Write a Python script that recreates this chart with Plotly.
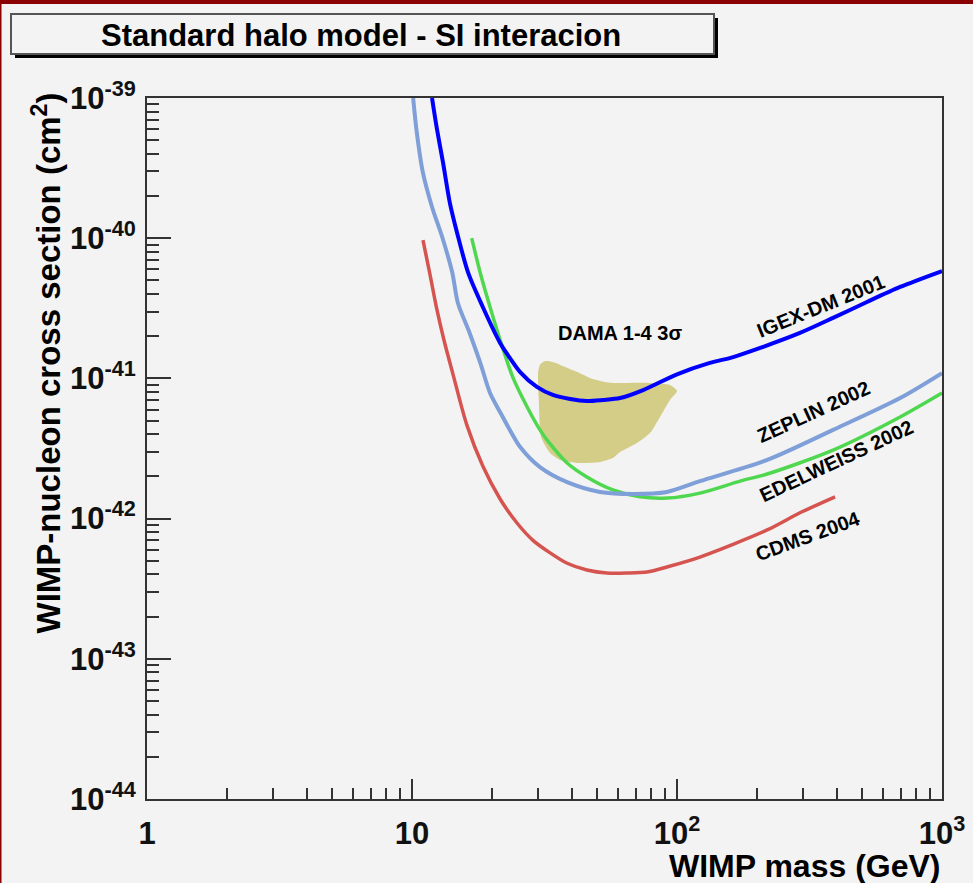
import plotly.graph_objects as go

W, H = 973, 883
L, R, T, B = 147, 31, 98, 84
PW = W - L - R
PH = H - T - B


def px(x):
    return (x - L) / PW


def py(y):
    return (H - B - y) / PH


# ---------------- data ----------------
igex_mass = [11.9, 12.4, 13.1, 13.9, 14.8, 16.3, 18.5, 21.5, 23.4, 25.6, 29.6, 34.0,
             39.5, 45.7, 52.6, 61.0, 74.5, 100, 133, 163, 206, 291, 388, 521, 695, 1000]
igex_xsec = [1.0e-39, 6.11e-40, 3.44e-40, 1.78e-40, 1.09e-40, 5.65e-41, 3.23e-41, 1.79e-41,
             1.40e-41, 1.11e-41, 8.69e-42, 7.62e-42, 7.13e-42, 6.90e-42, 7.02e-42, 7.24e-42,
             8.26e-42, 1.07e-41, 1.29e-41, 1.42e-41, 1.65e-41, 2.11e-41, 2.70e-41, 3.51e-41,
             4.49e-41, 5.83e-41]

zeplin_mass = [10.1, 10.4, 11.0, 11.9, 13.0, 14.2, 14.9, 16.5, 18.1, 19.7, 22.0, 23.4,
               25.6, 30.4, 38.5, 51.2, 68.2, 91.6, 122, 219, 388, 695, 1000]
zeplin_xsec = [1.0e-39, 5.9e-40, 2.92e-40, 1.67e-40, 1.02e-40, 5.65e-41, 3.45e-41, 2.11e-41,
               1.29e-41, 7.87e-42, 5.31e-42, 4.29e-42, 3.24e-42, 2.33e-42, 1.82e-42, 1.55e-42,
               1.50e-42, 1.55e-42, 1.85e-42, 2.62e-42, 4.29e-42, 7.24e-42, 1.09e-41]

edel_mass = [16.8, 18.1, 19.7, 21.5, 24.0, 27.2, 30.4, 32.3, 38.5, 45.7, 57.3, 72.5,
             91.6, 122, 173, 219, 388, 695, 1000]
edel_xsec = [1.0e-40, 5.65e-41, 3.23e-41, 1.88e-41, 1.02e-41, 6.25e-42, 4.29e-42, 3.64e-42,
             2.49e-42, 1.98e-42, 1.60e-42, 1.43e-42, 1.40e-42, 1.52e-42, 1.85e-42, 2.08e-42,
             3.08e-42, 5.31e-42, 7.87e-42]

cdms_mass = [11.0, 11.7, 12.4, 13.2, 14.3, 16.1, 18.5, 21.5, 24.9, 28.6, 33.2, 38.5,
             45.7, 54.4, 64.7, 77.1, 91.6, 122, 219, 291, 395]
cdms_xsec = [9.7e-41, 5.47e-41, 3.13e-41, 1.88e-41, 1.06e-41, 4.66e-42, 2.37e-42, 1.38e-42,
             9.3e-43, 7.0e-43, 5.7e-43, 4.8e-43, 4.3e-43, 4.09e-43, 4.09e-43, 4.16e-43,
             4.52e-43, 5.32e-43, 8.3e-43, 1.10e-42, 1.43e-42]

dama_mass = [29.9, 30.4, 31.8, 34.0, 38.5, 43.0, 48.2, 55.9, 74.5, 94.1, 100, 94.1,
             86.3, 79.1, 70.6, 61.0, 57.3, 51.2, 43.0, 36.2, 33.2, 30.7, 30.1, 29.9]
dama_xsec = [1.09e-41, 1.25e-41, 1.33e-41, 1.31e-41, 1.19e-41, 1.09e-41, 9.9e-42, 9.3e-42,
             9.3e-42, 8.97e-42, 8.13e-42, 7.02e-42, 5.31e-42, 4.08e-42, 3.46e-42, 2.98e-42,
             2.70e-42, 2.53e-42, 2.49e-42, 2.62e-42, 2.94e-42, 3.82e-42, 7.02e-42, 1.09e-41]

x_tickvals = [1, 10, 100, 1000]
x_ticktext = ["1", "10", "10<sup>2</sup>", "10<sup>3</sup>"]
y_tickvals = [1e-44, 1e-43, 1e-42, 1e-41, 1e-40, 1e-39]
y_ticktext = ["10<sup>-44</sup>", "10<sup>-43</sup>", "10<sup>-42</sup>",
              "10<sup>-41</sup>", "10<sup>-40</sup>", "10<sup>-39</sup>"]
x_minor = [k * 10 ** e for e in range(0, 3) for k in range(2, 10)]
y_minor = [k * 10.0 ** e for e in range(-44, -39) for k in range(2, 10)]

labels = ["IGEX-DM 2001", "ZEPLIN 2002", "EDELWEISS 2002", "CDMS 2004"]

# ---------------- figure ----------------
BG = "#f3f3f3"
FONT = "Liberation Sans"

fig = go.Figure()

fig.add_trace(go.Scatter(x=dama_mass, y=dama_xsec, mode="lines", fill="toself",
                         fillcolor="#d3cd87", line=dict(width=0, color="#d3cd87", shape="spline",
                                                        smoothing=0.6),
                         hoverinfo="skip", showlegend=False))

fig.add_trace(go.Scatter(x=cdms_mass, y=cdms_xsec, mode="lines",
                         line=dict(color="#d6544f", width=3.5, shape="spline", smoothing=0.8),
                         showlegend=False))
fig.add_trace(go.Scatter(x=edel_mass, y=edel_xsec, mode="lines",
                         line=dict(color="#4fd84f", width=3.5, shape="spline", smoothing=0.8),
                         showlegend=False))
fig.add_trace(go.Scatter(x=zeplin_mass, y=zeplin_xsec, mode="lines",
                         line=dict(color="#7f9fd8", width=4, shape="spline", smoothing=0.8),
                         showlegend=False))
fig.add_trace(go.Scatter(x=igex_mass, y=igex_xsec, mode="lines",
                         line=dict(color="#0000ff", width=4, shape="spline", smoothing=0.8),
                         showlegend=False))

axis_common = dict(
    type="log",
    showgrid=False,
    zeroline=False,
    showline=True,
    linecolor="#333333",
    linewidth=2,
    mirror=True,
    ticks="inside",
    tickcolor="#333333",
    tickwidth=1.5,
    tickmode="array",
    tickfont=dict(family=FONT, size=31, color="#111111", weight="bold"),
)

fig.update_xaxes(**axis_common, range=[0, 3], tickvals=x_tickvals, ticktext=x_ticktext,
                 ticklen=20, ticklabelstandoff=6,
                 minor=dict(tickmode="array", tickvals=x_minor, ticklen=11, ticks="inside",
                            tickcolor="#333333", tickwidth=1.5, showgrid=False))
fig.update_yaxes(**axis_common, range=[-44, -39], tickvals=y_tickvals, ticktext=y_ticktext,
                 ticklen=24, ticklabelstandoff=3,
                 minor=dict(tickmode="array", tickvals=y_minor, ticklen=12, ticks="inside",
                            tickcolor="#333333", tickwidth=1.5, showgrid=False))

shapes = []
# dark red frame of the canvas
shapes.append(dict(type="rect", xref="paper", yref="paper", x0=px(0), x1=px(W), y0=py(4), y1=py(0),
                   fillcolor="#8b0000", line=dict(width=0), layer="above"))
shapes.append(dict(type="rect", xref="paper", yref="paper", x0=px(0), x1=px(1.5), y0=py(H), y1=py(0),
                   fillcolor="#8b0000", line=dict(width=0), layer="above"))
# title box shadow and box
shapes.append(dict(type="rect", xref="paper", yref="paper", x0=px(15), x1=px(718), y0=py(58), y1=py(18),
                   fillcolor="#000000", line=dict(width=0), layer="above"))
shapes.append(dict(type="rect", xref="paper", yref="paper", x0=px(11), x1=px(714), y0=py(54), y1=py(14),
                   fillcolor=BG, line=dict(width=2, color="#555555"), layer="above"))

annotations = []
annotations.append(dict(xref="paper", yref="paper", x=px(361), y=py(35),
                        text="<b>Standard halo model - SI interacion</b>",
                        showarrow=False, xanchor="center", yanchor="middle",
                        font=dict(family=FONT, size=31, color="#000000")))
annotations.append(dict(xref="paper", yref="paper", x=px(942), y=py(866), text="<b>WIMP mass (GeV)</b>",
                        showarrow=False, xanchor="right", yanchor="middle",
                        font=dict(family=FONT, size=32, color="#000000")))
annotations.append(dict(xref="paper", yref="paper", x=px(47), y=py(91),
                        text="<b>WIMP-nucleon cross section (cm<sup>2</sup>)</b>",
                        showarrow=False, xanchor="center", yanchor="top", textangle=-90,
                        font=dict(family=FONT, size=33, color="#000000")))
annotations.append(dict(xref="paper", yref="paper", x=px(620), y=py(333), text="<b>DAMA 1-4 3σ</b>",
                        showarrow=False, xanchor="center", yanchor="middle",
                        font=dict(family=FONT, size=20, color="#000000")))
label_pos = [(821, 306, -22), (813, 412, -24.5), (836, 461, -25), (808, 536, -20)]
for txt, (lx, ly, ang) in zip(labels, label_pos):
    annotations.append(dict(xref="paper", yref="paper", x=px(lx), y=py(ly), text="<b>" + txt + "</b>",
                            showarrow=False, xanchor="center", yanchor="middle", textangle=ang,
                            font=dict(family=FONT, size=20, color="#000000")))

fig.update_layout(
    width=W, height=H,
    margin=dict(l=L, r=R, t=T, b=B, autoexpand=False),
    paper_bgcolor=BG, plot_bgcolor=BG,
    shapes=shapes, annotations=annotations,
    showlegend=False,
)

fig.write_html("out.html")
